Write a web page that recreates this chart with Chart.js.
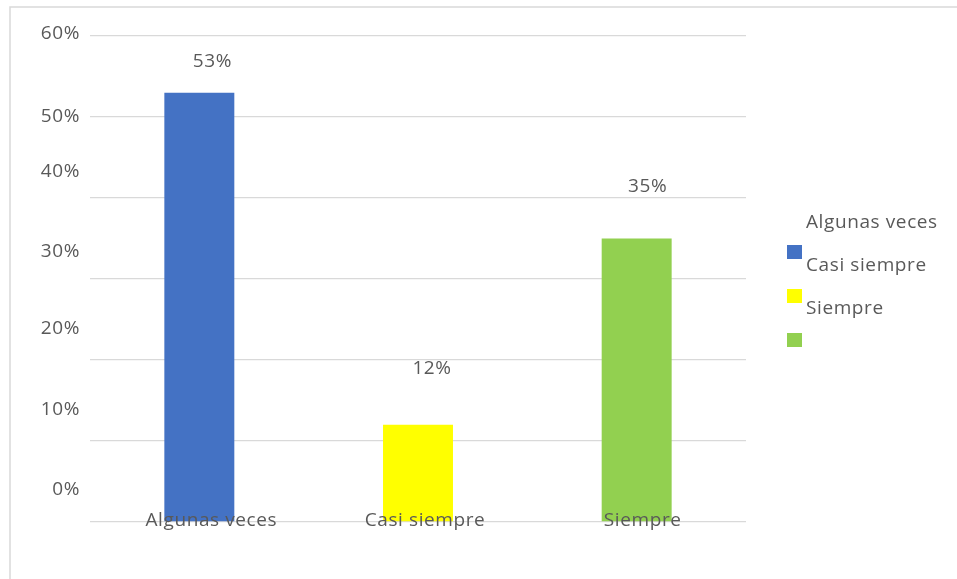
<!DOCTYPE html>
<html>
<head>
<meta charset="utf-8">
<script src="https://cdn.jsdelivr.net/npm/chart.js@4"></script>
<style>
  body { margin: 0; background: #fff; }
  #wrap { width: 957px; height: 579px; position: relative; }
</style>
</head>
<body>
<div id="wrap"><canvas id="myChart"></canvas></div>
<script>
const categories = ['Algunas veces', 'Casi siempre', 'Siempre'];
const values = [53, 12, 35];
const barColors = ['#4472C4', '#FFFF00', '#92D050'];
const yTicks = [0, 10, 20, 30, 40, 50, 60];

// the source picture has its labels slightly out of place, keep that look
const yLabelShift = [-32, -31, -31, -27, -26, 0, -2];
const valueLabelShift = [[13, -31], [14, -56], [11, -52]];
const xLabelShift = [12, 7, 6];

const textColor = '#595959';
const font = '19px "Open Sans", sans-serif';

const extras = {
  id: 'extras',
  beforeDraw(chart) {
    const ctx = chart.ctx;
    ctx.save();
    ctx.strokeStyle = '#d9d9d9';
    ctx.lineWidth = 1.5;
    ctx.beginPath();
    ctx.moveTo(10, chart.height);
    ctx.lineTo(10, 7);
    ctx.lineTo(chart.width, 7);
    ctx.stroke();
    ctx.restore();
  },
  afterDraw(chart) {
    const ctx = chart.ctx;
    const area = chart.chartArea;
    const x = chart.scales.x;
    const y = chart.scales.y;
    ctx.save();
    ctx.font = font;
    ctx.letterSpacing = '0.6px';
    ctx.fillStyle = textColor;
    ctx.textBaseline = 'middle';

    // y tick labels
    ctx.textAlign = 'right';
    yTicks.forEach((v, i) => {
      ctx.fillText(v + '%', area.left - 10, y.getPixelForValue(v) + yLabelShift[i]);
    });

    // category labels, sitting on the base line
    ctx.textAlign = 'center';
    categories.forEach((c, i) => {
      ctx.fillText(c, x.getPixelForValue(i) + xLabelShift[i], y.getPixelForValue(0) - 1);
    });

    // value labels
    chart.getDatasetMeta(0).data.forEach((bar, i) => {
      ctx.fillText(values[i] + '%', bar.x + valueLabelShift[i][0], bar.y + valueLabelShift[i][1]);
    });

    // legend
    ctx.textAlign = 'left';
    categories.forEach((c, i) => {
      ctx.fillStyle = barColors[i];
      ctx.fillRect(area.right + 41, area.top + 209 + i * 44, 15, 14);
      ctx.fillStyle = textColor;
      ctx.fillText(c, area.right + 60, area.top + 187 + i * 43);
    });
    ctx.restore();
  }
};

const ctx = document.getElementById('myChart').getContext('2d');
const myChart = new Chart(ctx, {
  type: 'bar',
  data: {
    labels: categories,
    datasets: [{
      data: values,
      backgroundColor: barColors,
      barPercentage: 0.32,
      categoryPercentage: 1
    }]
  },
  options: {
    responsive: true,
    maintainAspectRatio: false,
    animation: false,
    layout: { padding: { left: 90, right: 211, top: 36, bottom: 57 } },
    plugins: { legend: { display: false }, tooltip: { enabled: false } },
    scales: {
      x: {
        grid: { display: false, drawTicks: false },
        border: { display: false },
        ticks: { display: false }
      },
      y: {
        min: 0,
        max: 60,
        grid: { color: '#d9d9d9', lineWidth: 1.3, drawTicks: false },
        border: { display: false },
        ticks: { display: false, stepSize: 10 }
      }
    }
  },
  plugins: [extras]
});
</script>
</body>
</html>
